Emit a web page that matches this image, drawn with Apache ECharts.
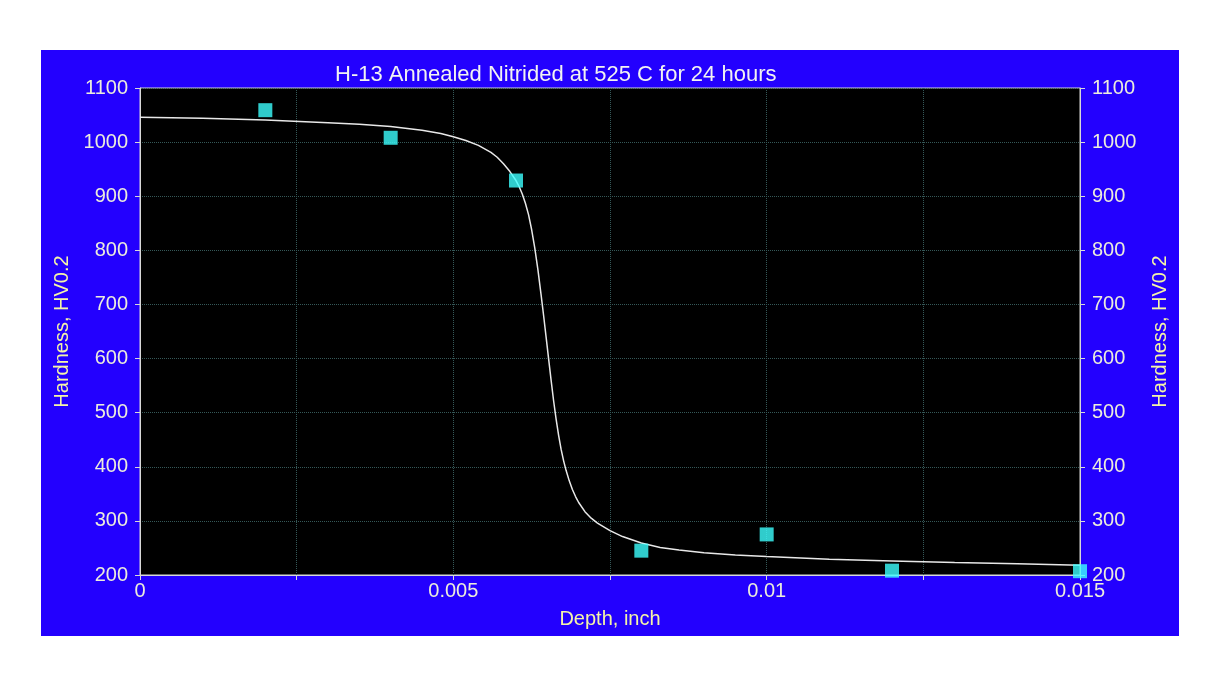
<!DOCTYPE html>
<html>
<head>
<meta charset="utf-8">
<title>H-13 Nitrided hardness profile</title>
<script src="https://cdn.jsdelivr.net/npm/echarts@6/dist/echarts.min.js"></script>
<style>
  html, body { margin: 0; padding: 0; background: #fff; }
  #chart { width: 1227px; height: 683px; }
</style>
</head>
<body>
<div id="chart"></div>
<script>
// measured points
const pointDepth = [0.002, 0.004, 0.006, 0.008, 0.01, 0.012, 0.015]
const pointHardness = [1059, 1008, 929, 245, 275, 208, 207]

// fitted curve
const curveDepth = [0, 0.001, 0.002, 0.003, 0.0035, 0.004, 0.0045, 0.0048, 0.005, 0.0052, 0.0054, 0.0056, 0.0057, 0.0058, 0.0059, 0.006, 0.00605, 0.0061, 0.00615, 0.0062, 0.00625, 0.0063, 0.00635, 0.0064, 0.00644, 0.00648, 0.00652, 0.00656, 0.0066, 0.00664, 0.00668, 0.00672, 0.00676, 0.0068, 0.00685, 0.0069, 0.00695, 0.007, 0.0071, 0.0072, 0.0073, 0.0075, 0.0077, 0.008, 0.0083, 0.0086, 0.009, 0.0095, 0.01, 0.011, 0.012, 0.013, 0.014, 0.015]
const curveHardness = [1046, 1044, 1041, 1036, 1033, 1029, 1022, 1016, 1010, 1003, 994, 981, 972, 960, 946, 929, 918, 904, 887, 866, 838, 804, 764, 718, 680, 640, 600, 560, 522, 488, 458, 432, 411, 393, 374, 358, 345, 334, 317, 305, 296, 282, 271, 259, 251, 246, 241, 237, 234, 229, 226, 223, 221, 218]

const title = 'H-13 Annealed Nitrided at 525 C for 24 hours'
const yName = 'Hardness, HV0.2'
const xName = 'Depth, inch'

const font = '"Liberation Sans", Arial, sans-serif'
const labelColor = '#ececdc'
const nameColor = '#f4f4a8'
const gridLine = { show: true, lineStyle: { color: '#355858', type: 'dotted', width: 1 } }

function yAxis(pos, gap) {
  return {
    type: 'value',
    position: pos,
    min: 200,
    max: 1100,
    interval: 100,
    name: yName,
    nameLocation: 'middle',
    nameRotate: 90,
    nameGap: gap,
    nameTextStyle: { color: nameColor, fontSize: 20, fontFamily: font },
    axisLine: { show: true, lineStyle: { color: '#d8d8d8', width: 1 } },
    axisTick: { show: true, length: 5, lineStyle: { color: '#d8d8d8' } },
    axisLabel: { color: labelColor, fontSize: 20, fontFamily: font, margin: 12, formatter: v => String(v) },
    splitLine: pos === 'left' ? gridLine : { show: false }
  }
}

const chart = echarts.init(document.getElementById('chart'))
chart.setOption({
  backgroundColor: '#fff',
  animation: false,
  graphic: [{
    type: 'rect',
    z: -100,
    silent: true,
    shape: { x: 41, y: 50, width: 1138, height: 586 },
    style: { fill: '#2300fe' }
  }],
  title: {
    text: title,
    left: 330,
    top: 59,
    textStyle: { color: '#f2f2f2', fontSize: 22, fontWeight: 'normal', fontFamily: font }
  },
  grid: {
    left: 140,
    right: 147,
    top: 88,
    bottom: 108,
    show: true,
    backgroundColor: '#000',
    borderColor: '#d8d8d8',
    borderWidth: 1
  },
  xAxis: {
    type: 'value',
    min: 0,
    max: 0.015,
    interval: 0.0025,
    name: xName,
    nameLocation: 'middle',
    nameGap: 34,
    nameTextStyle: { color: nameColor, fontSize: 20, fontFamily: font },
    axisLine: { show: true, lineStyle: { color: '#d8d8d8', width: 1 } },
    axisTick: { show: true, length: 5, lineStyle: { color: '#d8d8d8' } },
    axisLabel: {
      color: labelColor,
      fontSize: 20,
      fontFamily: font,
      margin: 6,
      formatter: function (v) {
        const k = v / 0.005
        return Math.abs(k - Math.round(k)) < 1e-6 ? String(+v.toFixed(4)) : ''
      }
    },
    splitLine: gridLine
  },
  yAxis: [yAxis('left', 58), yAxis('right', 70)],
  series: [
    {
      type: 'line',
      data: curveDepth.map((d, i) => [d, curveHardness[i]]),
      smooth: false,
      showSymbol: false,
      lineStyle: { color: '#e8e8e8', width: 1.5 },
      z: 2
    },
    {
      type: 'scatter',
      data: pointDepth.map((d, i) => [d, pointHardness[i]]),
      symbol: 'rect',
      symbolSize: 14,
      itemStyle: { color: '#3cffff' },
      z: 3
    }
  ]
})
</script>
</body>
</html>
